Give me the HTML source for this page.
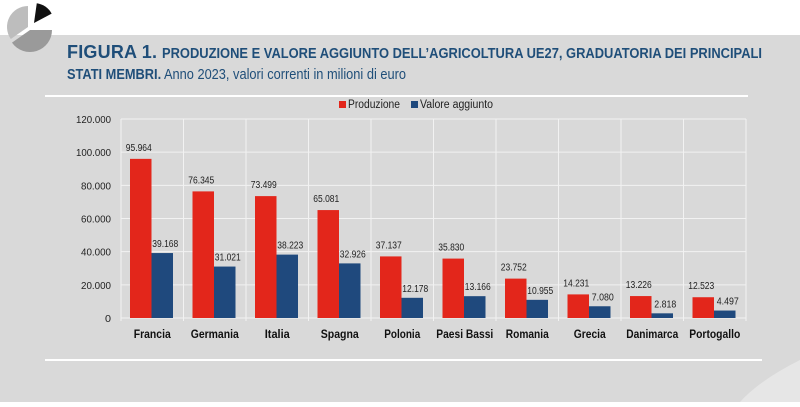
<!DOCTYPE html>
<html><head><meta charset="utf-8"><style>
body{margin:0;width:800px;height:402px;overflow:hidden;background:#fff;font-family:"Liberation Sans",sans-serif}
</style></head><body>
<svg width="800" height="402" xmlns="http://www.w3.org/2000/svg" font-family="Liberation Sans, sans-serif">
<rect x="0" y="35" width="800" height="367" fill="#d9d9d9"/>
<path d="M800,360 Q760,380 740,402 L800,402 Z" fill="#e6e6e6"/>
<g id="pie"></g>
<text x="67" y="58" font-weight="bold" fill="#1f4e79"><tspan font-size="18" textLength="90">FIGURA 1.</tspan><tspan x="162" font-size="14.5" textLength="600" lengthAdjust="spacingAndGlyphs">PRODUZIONE E VALORE AGGIUNTO DELL’AGRICOLTURA UE27, GRADUATORIA DEI PRINCIPALI</tspan></text>
<text x="67" y="79" font-size="14.5" fill="#1f4e79" textLength="339" lengthAdjust="spacingAndGlyphs"><tspan font-weight="bold">STATI MEMBRI.</tspan> Anno 2023, valori correnti in milioni di euro</text>
<line x1="45" y1="96" x2="748" y2="96" stroke="#fff" stroke-width="2"/>
<line x1="45" y1="360" x2="762" y2="360" stroke="#fff" stroke-width="2"/>
<rect x="339" y="101" width="7" height="7" fill="#e3261b"/>
<text x="348" y="108" font-size="11.5" fill="#222" textLength="52" lengthAdjust="spacingAndGlyphs">Produzione</text>
<rect x="411" y="101" width="7" height="7" fill="#1f497d"/>
<text x="420" y="108" font-size="11.5" fill="#222" textLength="73" lengthAdjust="spacingAndGlyphs">Valore aggiunto</text>
<g id="chart"></g>
</svg>
<script>
var ns="http://www.w3.org/2000/svg";
function el(p,t,a,txt){var e=document.createElementNS(ns,t);for(var k in a)e.setAttribute(k,a[k]);if(txt!=null)e.textContent=txt;p.appendChild(e);return e}
var pie=document.querySelector('#pie');
function slice(cx,cy,r,a1,a2,fill){var R=Math.PI/180;
 var x1=cx+r*Math.sin(a1*R),y1=cy-r*Math.cos(a1*R),x2=cx+r*Math.sin(a2*R),y2=cy-r*Math.cos(a2*R);
 el(pie,'path',{d:'M'+cx+','+cy+' L'+x1+','+y1+' A'+r+','+r+' 0 '+((a2-a1)>180?1:0)+' 1 '+x2+','+y2+' Z',fill:fill});}
slice(30,30,22,90,235,'#9a9a9a');
slice(28,27,21,235,360,'#bdbdbd');
slice(34,23,20,8,62,'#111');
var s=document.querySelector('#chart');
var x0=121,w=62.5,y0=318,k=199/120000;
for(var i=0;i<=6;i++){var v=i*20000,y=y0-v*k;
 el(s,'line',{x1:x0,x2:x0+10*w,y1:y,y2:y,stroke:'#f2f2f2','stroke-width':1});
 el(s,'text',{x:111,y:y+4,'font-size':10.5,'text-anchor':'end',fill:'#222',textLength:v==0?6:(v>=100000?35:30),lengthAdjust:'spacingAndGlyphs'},v==0?'0':(v/1000)+'.000');}
for(var i=0;i<=10;i++){el(s,'line',{x1:x0+i*w,x2:x0+i*w,y1:119,y2:y0+3,stroke:'#f2f2f2','stroke-width':1});}
var d=[["Francia",95964,39168,37],["Germania",76345,31021,48],["Italia",73499,38223,25],["Spagna",65081,32926,38],["Polonia",37137,12178,36],["Paesi Bassi",35830,13166,57],["Romania",23752,10955,43],["Grecia",14231,7080,32],["Danimarca",13226,2818,52],["Portogallo",12523,4497,51]];
function f(v){var s=String(v);return s.slice(0,s.length-3)+'.'+s.slice(-3)}
d.forEach(function(r,i){var c=x0+i*w,xr=c+9,bw=21.5;
 var hr=r[1]*k,hb=r[2]*k;
 el(s,'rect',{x:xr,y:y0-hr,width:bw,height:hr,fill:'#e3261b'});
 el(s,'rect',{x:xr+bw,y:y0-hb,width:bw,height:hb,fill:'#1f497d'});
 el(s,'text',{x:xr+bw/2-2,y:y0-hr-8,'font-size':10,'text-anchor':'middle',fill:'#222',textLength:26,lengthAdjust:'spacingAndGlyphs'},f(r[1]));
 el(s,'text',{x:xr+bw*1.5+3,y:y0-hb-6,'font-size':10,'text-anchor':'middle',fill:'#222',textLength:r[2]<10000?22:26,lengthAdjust:'spacingAndGlyphs'},f(r[2]));
 el(s,'text',{x:c+w/2,y:338,'font-size':12,'font-weight':'bold','text-anchor':'middle',fill:'#111',textLength:r[3],lengthAdjust:'spacingAndGlyphs'},r[0]);
});
</script>
</body></html>
